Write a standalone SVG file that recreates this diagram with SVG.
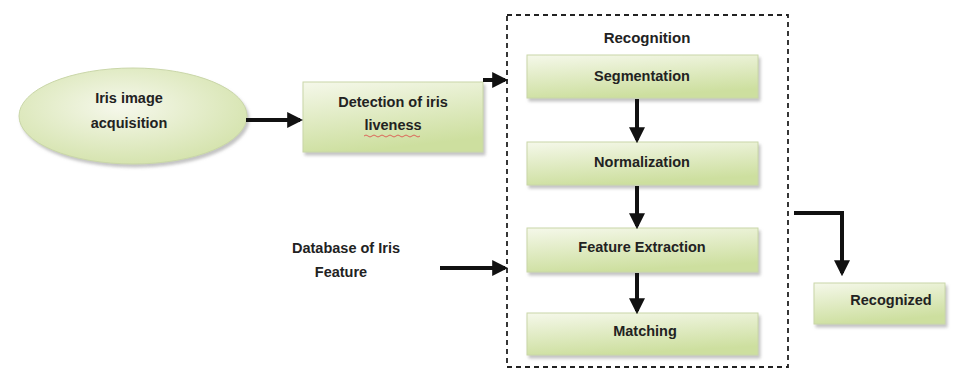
<svg xmlns="http://www.w3.org/2000/svg" width="958" height="370" viewBox="0 0 958 370">
<defs>
<linearGradient id="g" x1="0" y1="0" x2="0.3" y2="1">
<stop offset="0" stop-color="#f5f8ea"/>
<stop offset="1" stop-color="#cddf9f"/>
</linearGradient>
<radialGradient id="ge" cx="0.45" cy="0.4" r="0.65">
<stop offset="0" stop-color="#f6f8ec"/>
<stop offset="1" stop-color="#d3e2aa"/>
</radialGradient>
<filter id="sh" x="-10%" y="-10%" width="125%" height="140%">
<feDropShadow dx="2" dy="3" stdDeviation="1.5" flood-color="#888" flood-opacity="0.5"/>
</filter>
<marker id="ah" markerWidth="4" markerHeight="4" refX="3.2" refY="2" orient="auto" markerUnits="strokeWidth">
<path d="M0,0 L4,2 L0,4 z" fill="#111"/>
</marker>
</defs>
<style>
.box{fill:url(#g);stroke:#c9d6a8;stroke-width:1;filter:url(#sh)}
.t{font-family:"Liberation Sans",Arial,sans-serif;font-weight:bold;font-size:14.5px;fill:#222;text-anchor:middle}
.c{stroke:#111;stroke-width:4;fill:none;marker-end:url(#ah)}
</style>
<rect width="958" height="370" fill="#fff"/>
<g id="recognition-group">
<rect x="507" y="15" width="281" height="352" fill="none" stroke="#222" stroke-width="1.8" stroke-dasharray="5,4"/>
<text class="t" x="647" y="43" style="font-size:15px">Recognition</text>
</g>
<g id="iris-acquisition">
<ellipse cx="133" cy="116" rx="114" ry="48" fill="url(#ge)" stroke="#c9d6a8" filter="url(#sh)"/>
<text class="t" x="129" y="103">Iris image</text>
<text class="t" x="129" y="128">acquisition</text>
</g>
<g id="liveness">
<rect class="box" x="303" y="82" width="180" height="70"/>
<text class="t" x="393" y="107">Detection of iris</text>
<text class="t" x="393" y="130">liveness</text>
<path d="M364,136 q2,-2 4,0 t4,0 t4,0 t4,0 t4,0 t4,0 t4,0 t4,0 t4,0 t4,0 t4,0 t4,0 t4,0 t4,0" fill="none" stroke="#d44" stroke-width="0.8"/>
</g>
<g id="segmentation">
<rect class="box" x="527" y="55" width="231" height="43"/>
<text class="t" x="642" y="81">Segmentation</text>
</g>
<g id="normalization">
<rect class="box" x="527" y="142" width="231" height="43"/>
<text class="t" x="642" y="167">Normalization</text>
</g>
<g id="feature-extraction">
<rect class="box" x="527" y="228" width="231" height="44"/>
<text class="t" x="642" y="252">Feature Extraction</text>
</g>
<g id="matching">
<rect class="box" x="527" y="313" width="231" height="42"/>
<text class="t" x="645" y="336">Matching</text>
</g>
<g id="database">
<text class="t" x="346" y="253">Database of Iris</text>
<text class="t" x="341" y="277">Feature</text>
</g>
<g id="recognized">
<rect class="box" x="814" y="283" width="131" height="41"/>
<text class="t" x="891" y="305">Recognized</text>
</g>
<g id="connectors">
<line class="c" x1="246" y1="120" x2="300" y2="120"/>
<line class="c" x1="483" y1="80" x2="505" y2="80"/>
<line class="c" x1="440" y1="268" x2="505" y2="268"/>
<line class="c" x1="637" y1="99" x2="637" y2="140"/>
<line class="c" x1="637" y1="186" x2="637" y2="226"/>
<line class="c" x1="637" y1="273" x2="637" y2="311"/>
<polyline class="c" points="794,213 842,213 842,273"/>
</g>
</svg>
